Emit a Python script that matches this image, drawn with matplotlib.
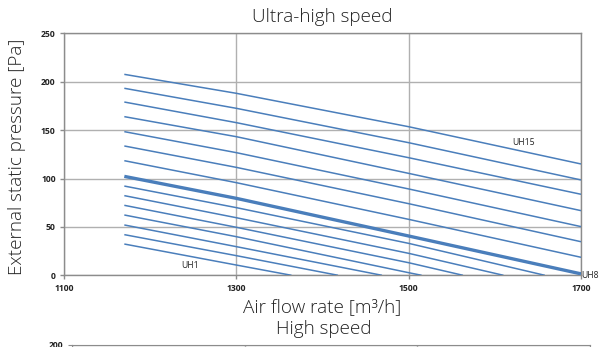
import matplotlib
matplotlib.use("Agg")
import matplotlib.pyplot as plt

# ---- data ----
x_ticks = [1100, 1300, 1500, 1700]
y_ticks = [0, 50, 100, 150, 200, 250]

uh1_x = [1170, 1300, 1364];            uh1_y = [32.3, 10.6, 0]
uh2_x = [1170, 1300, 1418];            uh2_y = [42.0, 20.3, 0]
uh3_x = [1170, 1300, 1469];            uh3_y = [52.0, 29.6, 0]
uh4_x = [1170, 1300, 1500, 1515];      uh4_y = [62.3, 39.9, 2.7, 0]
uh5_x = [1170, 1300, 1500, 1563];      uh5_y = [72.3, 49.6, 13.0, 0]
uh6_x = [1170, 1300, 1500, 1610];      uh6_y = [82.3, 59.5, 22.7, 0]
uh7_x = [1170, 1300, 1500, 1658];      uh7_y = [92.2, 69.9, 33.0, 0]
uh8_x = [1170, 1300, 1500, 1700];      uh8_y = [102.2, 79.5, 40.6, 1.5]
uh9_x = [1170, 1300, 1500, 1700];      uh9_y = [118.4, 95.7, 57.8, 18.6]
uh10_x = [1170, 1300, 1500, 1700];     uh10_y = [133.6, 111.5, 74.0, 34.7]
uh11_x = [1170, 1300, 1500, 1700];     uh11_y = [148.4, 126.7, 89.2, 50.3]
uh12_x = [1170, 1300, 1500, 1700];     uh12_y = [163.9, 143.2, 105.3, 66.8]
uh13_x = [1170, 1300, 1500, 1700];     uh13_y = [179.0, 157.7, 121.5, 83.7]
uh14_x = [1170, 1300, 1500, 1700];     uh14_y = [193.2, 172.5, 137.0, 98.5]
uh15_x = [1170, 1300, 1500, 1700];     uh15_y = [207.6, 188.0, 153.5, 115.0]

series_names = ["UH%d" % i for i in range(1, 16)]
series_x = [uh1_x, uh2_x, uh3_x, uh4_x, uh5_x, uh6_x, uh7_x, uh8_x,
            uh9_x, uh10_x, uh11_x, uh12_x, uh13_x, uh14_x, uh15_x]
series_y = [uh1_y, uh2_y, uh3_y, uh4_y, uh5_y, uh6_y, uh7_y, uh8_y,
            uh9_y, uh10_y, uh11_y, uh12_y, uh13_y, uh14_y, uh15_y]

line_labels = {"UH1": (1246, 10.6, "center"),
               "UH15": (1633, 137.7, "center"),
               "UH8": (1700, 0, "left")}

# ---- drawing ----
W, H = 603, 347
fig = plt.figure(figsize=(W / 100, H / 100), dpi=100)
fig.patch.set_facecolor("white")

L, R, T, B = 64, 581, 33.3, 275.3
ax = fig.add_axes([L / W, 1 - B / H, (R - L) / W, (B - T) / H])

blue = "#4a7ebb"
grid_c = "#b0b0b0"
frame_c = "#8c8c8c"
txt_family = ["Open Sans", "DejaVu Sans"]
txt_c = "#222222"
big = 13.6
small = 6.2

for name, xs, ys in zip(series_names, series_x, series_y):
    lw = 2.4 if name == "UH8" else 1.1
    ax.plot(xs, ys, color=blue, lw=lw, solid_capstyle="butt", clip_on=True, zorder=3)

ax.set_xlim(1100, 1700)
ax.set_ylim(0, 250)
ax.set_xticks(x_ticks)
ax.set_yticks(y_ticks)
ax.set_xticklabels([str(v) for v in x_ticks])
ax.set_yticklabels([str(v) for v in y_ticks])
ax.grid(True, color=grid_c, lw=1.0, zorder=1)
for s in ax.spines.values():
    s.set_color(frame_c)
    s.set_linewidth(1.0)
ax.tick_params(axis="both", length=3, width=1.0, color=frame_c, labelsize=small,
               labelcolor=txt_c, pad=3)
for lab in ax.get_xticklabels() + ax.get_yticklabels():
    lab.set_fontweight("bold")
    lab.set_family(txt_family)

for name, (lx, ly, ha) in line_labels.items():
    ax.text(lx, ly, name, fontsize=small, ha=ha, va="center", color=txt_c,
            family=txt_family, clip_on=False, zorder=4)

fig.text(322 / W, 1 - 17 / H, "Ultra-high speed", fontsize=big, family=txt_family,
         ha="center", va="center", color=txt_c, fontweight="light")
fig.text(17 / W, 1 - 157 / H, "External static pressure [Pa]", fontsize=big,
         family=txt_family, ha="center", va="center", rotation=90, color=txt_c,
         fontweight="light")
fig.text(322 / W, 1 - 307 / H, "Air flow rate [m\u00b3/h]", fontsize=big,
         family=txt_family, ha="center", va="center", color=txt_c,
         fontweight="light")

# second chart (only its top edge is visible)
fig.text(324 / W, 1 - 329 / H, "High speed", fontsize=big, family=txt_family,
         ha="center", va="center", color=txt_c, fontweight="light")
L2, R2, T2 = 72, 590, 345
ax2 = fig.add_axes([L2 / W, 1 - T2 / H - 0.6, (R2 - L2) / W, 0.6])
ax2.set_xlim(1100, 1700)
ax2.set_ylim(0, 200)
ax2.set_xticks(x_ticks)
ax2.set_yticks([200])
ax2.set_yticklabels(["200"])
ax2.grid(True, color=grid_c, lw=1.0)
for s in ax2.spines.values():
    s.set_color(frame_c)
ax2.tick_params(axis="both", length=3, color=frame_c, labelsize=small,
                labelcolor=txt_c, labelbottom=False)
for lab in ax2.get_yticklabels():
    lab.set_fontweight("bold")
    lab.set_family(txt_family)

fig.savefig("out.png", dpi=100)
